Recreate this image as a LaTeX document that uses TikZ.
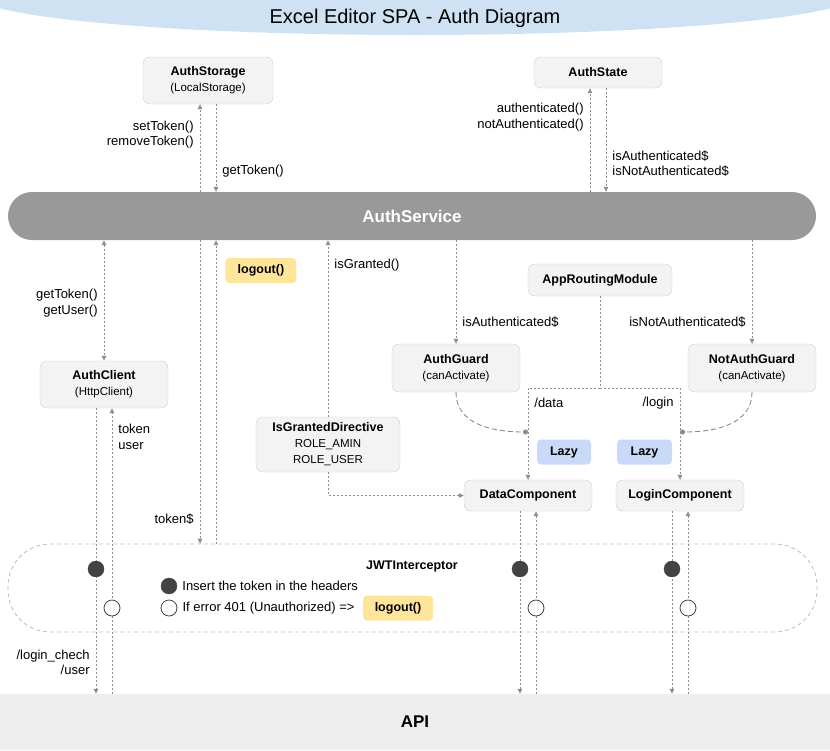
\documentclass[tikz,border=0pt]{standalone}
\usepackage{fontspec}
\setmainfont{Liberation Sans}
\usetikzlibrary{arrows.meta}
\definecolor{titleblue}{HTML}{CFE2F3}
\definecolor{boxfill}{HTML}{F3F3F3}
\definecolor{boxline}{HTML}{CCCCCC}
\definecolor{servicegray}{HTML}{999999}
\definecolor{logoutyellow}{HTML}{FFE599}
\definecolor{lazyblue}{HTML}{C9DAF8}
\definecolor{apigray}{HTML}{EEEEEE}
\definecolor{linkgray}{HTML}{8C8C8C}
\definecolor{jwtgray}{HTML}{BDBDBD}
\definecolor{dotgray}{HTML}{434343}
\newcommand{\ttlfont}{\fontsize{12.5}{16}\selectfont\bfseries}
\newcommand{\subfont}{\fontsize{11.5}{14}\selectfont\mdseries}
\newcommand{\lblfont}{\fontsize{13}{15.5}\selectfont}
\begin{document}
\begin{tikzpicture}[x=1pt,y=-1pt,
    box/.style={draw=boxline,fill=boxfill,rounded corners=7pt,align=center,inner sep=0pt,font=\ttlfont},
    badge/.style={rounded corners=4pt,inner sep=0pt,minimum height=25,font=\ttlfont},
    link/.style={draw=linkgray,line width=0.8pt,dash pattern=on 2pt off 2pt,-{Triangle[length=5pt,width=4.5pt]}},
    both/.style={link,{Triangle[length=5pt,width=4.5pt]}-{Triangle[length=5pt,width=4.5pt]}},
    guardlink/.style={draw=linkgray,line width=0.9pt,dash pattern=on 5pt off 3pt,-{Circle[length=5pt]}},
    lbl/.style={font=\lblfont,align=left,inner sep=6pt},
    fulldot/.style={circle,draw=dotgray,fill=dotgray,minimum size=16,inner sep=0pt},
    emptydot/.style={circle,draw=dotgray,fill=white,line width=0.8pt,minimum size=16,inner sep=0pt}]
    \useasboundingbox (0,0) rectangle (830,750);
    \clip (0,0) rectangle (830,750);
    \fill[titleblue] (415,-5) ellipse [x radius=440, y radius=40];
    \node[font=\fontsize{20}{24}\selectfont] (title) at (415,18) {Excel Editor SPA - Auth Diagram};

    \node[box,minimum width=130,minimum height=47] (storage) at (208,80.5) {AuthStorage\\{\subfont (LocalStorage)}};
    \node[box,minimum width=128,minimum height=31] (state) at (598,72.5) {AuthState};
    \node[fill=servicegray,rounded corners=24pt,minimum width=808,minimum height=48,text=white,font=\fontsize{17}{20}\selectfont\bfseries] (service) at (412,216) {AuthService};
    \node[box,minimum width=128,minimum height=47] (client) at (104,384.5) {AuthClient\\{\subfont (HttpClient)}};
    \node[box,minimum width=144,minimum height=32] (routing) at (600,280) {AppRoutingModule};
    \node[box,minimum width=128,minimum height=48] (guard) at (456,368) {AuthGuard\\{\subfont (canActivate)}};
    \node[box,minimum width=128,minimum height=48] (notguard) at (752,368) {NotAuthGuard\\{\subfont (canActivate)}};
    \node[box,minimum width=144,minimum height=55] (granted) at (328,444.5) {IsGrantedDirective\\{\subfont ROLE\_AMIN}\\{\subfont ROLE\_USER}};
    \node[badge,fill=lazyblue,minimum width=54] (lazydata) at (564,452) {Lazy};
    \node[badge,fill=lazyblue,minimum width=55] (lazylogin) at (644.5,452) {Lazy};
    \node[box,minimum width=128,minimum height=31] (data) at (528,495.5) {DataComponent};
    \node[box,minimum width=128,minimum height=31] (login) at (680,495.5) {LoginComponent};
    \node[draw=jwtgray,line width=0.8pt,dash pattern=on 4pt off 3pt,rounded corners=42pt,minimum width=809,minimum height=88] (jwt) at (412.5,588) {};
    \node[font=\ttlfont] (jwttitle) at (412,566) {JWTInterceptor};
    \node[fill=apigray,minimum width=830,minimum height=56,font=\fontsize{17}{20}\selectfont\bfseries] (api) at (415,722) {API};

    % storage and state
    \draw[link] ([xshift=-8pt]storage.south |- service.north) -- node[lbl,left,align=right,pos=0.65] {setToken()\\removeToken()} ([xshift=-8pt]storage.south);
    \draw[link] ([xshift=8pt]storage.south) -- node[lbl,right,pos=0.76] {getToken()} ([xshift=8pt]storage.south |- service.north);
    \draw[link] ([xshift=-8pt]state.south |- service.north) -- node[lbl,left,align=right,pos=0.72] {authenticated()\\notAuthenticated()} ([xshift=-8pt]state.south);
    \draw[link] ([xshift=8pt]state.south) -- node[lbl,right,pos=0.73] {isAuthenticated\$\\isNotAuthenticated\$} ([xshift=8pt]state.south |- service.north);

    % client
    \draw[both] (client.north |- service.south) -- node[lbl,left,align=right,pos=0.52] {getToken()\\getUser()} (client.north);
    \draw[link] ([xshift=-8pt]client.south) -- node[lbl,left,align=right,pos=0.89] {/login\_chech\\/user} ([xshift=-8pt]client.south |- api.north);
    \draw[link] ([xshift=8pt]client.south |- api.north) -- node[lbl,right,pos=0.9] {token\\user} ([xshift=8pt]client.south);

    % interceptor
    \draw[link] ([xshift=-8pt]storage.south |- service.south) -- node[lbl,left,pos=0.92] {token\$} ([xshift=-8pt]storage.south |- jwt.north);
    \draw[link] ([xshift=8pt]storage.south |- jwt.north) -- node[badge,fill=logoutyellow,minimum width=71,right,xshift=9pt,pos=0.9] (logouttop) {logout()} ([xshift=8pt]storage.south |- service.south);

    \draw[link] (granted.north) -- node[lbl,right,pos=0.86] {isGranted()} (granted.north |- service.south);
    \draw[link] (granted.south) |- (data.west);

    \draw[link] (guard.north |- service.south) -- node[lbl,right,pos=0.79] {isAuthenticated\$} (guard.north);
    \draw[link] (notguard.north |- service.south) -- node[lbl,left,pos=0.79] {isNotAuthenticated\$} (notguard.north);

    % routing
    \coordinate (fork) at (routing.south |- 0,388);
    \draw[link,-] (routing.south) -- (fork);
    \draw[link] (fork) -| node[lbl,right,pos=0.58] {/data} (data.north);
    \draw[link] (fork) -| node[lbl,left,pos=0.58] {/login} (login.north);
    \coordinate (datadot) at (data.north |- 0,432);
    \coordinate (logindot) at (login.north |- 0,432);
    \draw[guardlink] (guard.south) .. controls +(0,30) and +(-40,0) .. (datadot);
    \draw[guardlink] (notguard.south) .. controls +(0,30) and +(40,0) .. (logindot);

    \draw[link] ([xshift=-8pt]data.south) -- ([xshift=-8pt]data.south |- api.north);
    \draw[link] ([xshift=8pt]data.south |- api.north) -- ([xshift=8pt]data.south);
    \draw[link] ([xshift=-8pt]login.south) -- ([xshift=-8pt]login.south |- api.north);
    \draw[link] ([xshift=8pt]login.south |- api.north) -- ([xshift=8pt]login.south);

    \node[fulldot] (clientout) at ([xshift=-8pt]client.south |- 0,569) {};
    \node[emptydot] (clientin) at ([xshift=8pt]client.south |- 0,608) {};
    \node[fulldot] (dataout) at ([xshift=-8pt]data.south |- 0,569) {};
    \node[emptydot] (datain) at ([xshift=8pt]data.south |- 0,608) {};
    \node[fulldot] (loginout) at ([xshift=-8pt]login.south |- 0,569) {};
    \node[emptydot] (loginin) at ([xshift=8pt]login.south |- 0,608) {};

    \node[fulldot] (insertdot) at (169,586) {};
    \node[font=\lblfont,anchor=west,inner sep=0pt] (inserttext) at ([xshift=5pt]insertdot.east) {Insert the token in the headers};
    \node[emptydot] (errordot) at (169,608) {};
    \node[font=\lblfont,anchor=west,inner sep=0pt] (errortext) at ([xshift=5pt]errordot.east) {If error 401 (Unauthorized) =>};
    \node[badge,fill=logoutyellow,minimum width=70] (logoutjwt) at (398,608) {logout()};
\end{tikzpicture}
\end{document}
